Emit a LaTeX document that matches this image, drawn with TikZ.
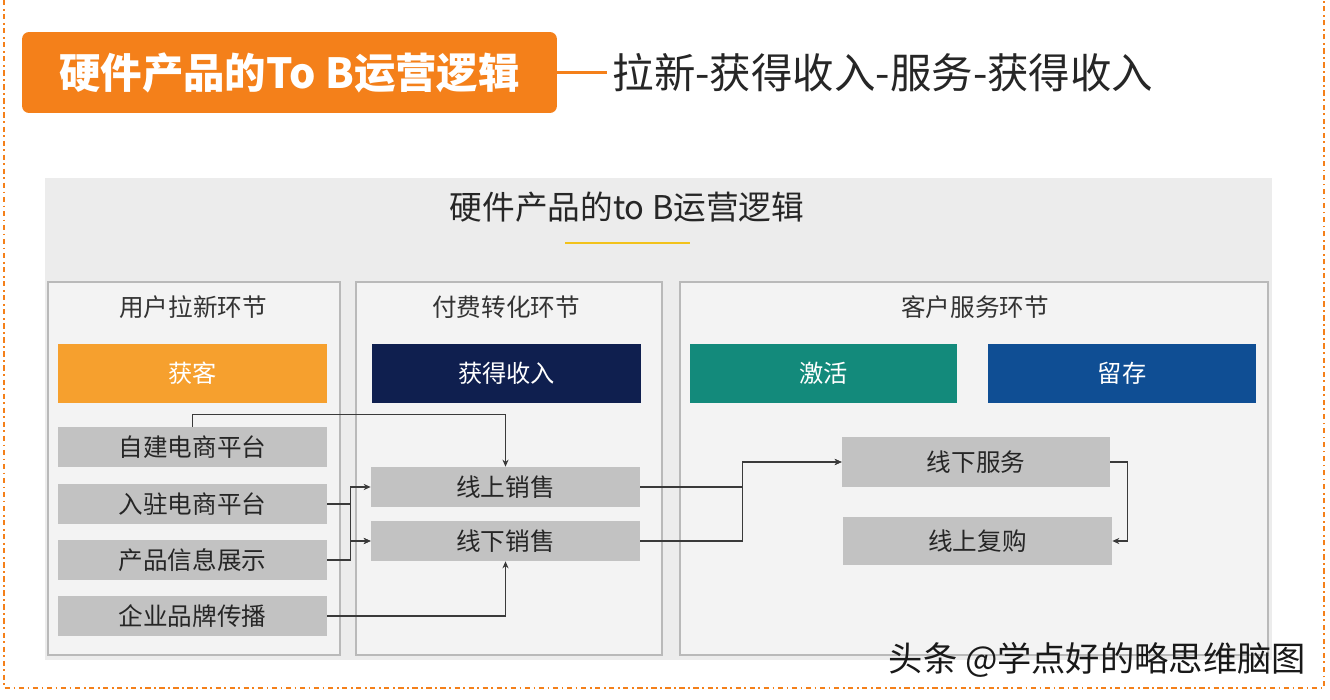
\documentclass[tikz,border=0pt]{standalone}
\usepackage{fontspec}
\setmainfont{Noto Sans CJK SC}
\usepackage{tikz}
\usetikzlibrary{arrows.meta}

\definecolor{titleorange}{HTML}{F4801A}
\definecolor{getorange}{HTML}{F6A02E}
\definecolor{navyblue}{HTML}{0F1F4F}
\definecolor{tealgreen}{HTML}{138A7B}
\definecolor{keepblue}{HTML}{0F4E94}
\definecolor{boxgray}{HTML}{C2C2C2}
\definecolor{panelgray}{HTML}{ECECEC}
\definecolor{colgray}{HTML}{F3F3F3}
\definecolor{lineyellow}{HTML}{F2C21B}
\definecolor{linkgray}{HTML}{3A3A3A}

\tikzset{
  colpanel/.style={fill=colgray, draw=gray!55, line width=0.6pt},
  headbox/.style={minimum width=5.38cm, minimum height=1.18cm, inner sep=0pt, text=white, font=\fontsize{13.8}{15}\selectfont},
  itembox/.style={fill=boxgray, minimum width=5.38cm, minimum height=0.8cm, inner sep=0pt, text=black!85, font=\fontsize{14}{16}\selectfont},
  colhead/.style={text=black!80, font=\fontsize{14}{16}\selectfont},
  link/.style={draw=linkgray, line width=0.7pt, -{Stealth[length=4pt,width=3.5pt]}}
}

\begin{document}
\begin{tikzpicture}[x=0.02cm, y=-0.02cm]
    \useasboundingbox (0,0) rectangle (1330,700);
    \fill[white] (0,0) rectangle (1330,700);

    % dashed frame
    \draw[titleorange, line width=1.6pt, dash pattern=on 3pt off 2pt on 1pt off 2pt] (4,0) -- (4,688) -- (1324,688) -- (1324,0);

    % heading
    \node[fill=titleorange, rounded corners=4pt, minimum width=10.7cm, minimum height=1.62cm, inner sep=0pt,
          text=white, font=\fontsize{23.6}{26}\selectfont\bfseries] (head) at (289.5,72.5) {硬件产品的To B运营逻辑};
    \draw[titleorange, line width=2pt] (head.east) -- ++(50,0) coordinate (headend);
    \node[anchor=west, inner sep=0pt, text=black!85, font=\fontsize{23.6}{26}\selectfont] (sub) at ([xshift=0.1cm]headend) {拉新-获得收入-服务-获得收入};

    % panel
    \fill[panelgray] (45,178) rectangle (1272,660);
    \node[text=black!85, font=\fontsize{18.6}{21}\selectfont] (ptitle) at (627,207) {硬件产品的to B运营逻辑};
    \draw[lineyellow, line width=1.6pt] (565,243) -- (690,243);

    \draw[colpanel] (48,282) rectangle (340,655);
    \draw[colpanel] (356,282) rectangle (662,655);
    \draw[colpanel] (680,282) rectangle (1268,655);

    \node[colhead] (c1) at (193,307) {用户拉新环节};
    \node[colhead] (c2) at (506,307) {付费转化环节};
    \node[colhead] (c3) at (975,307) {客户服务环节};

    \node[headbox, fill=getorange] (hk) at (192.5,373.5) {获客};
    \node[headbox, fill=navyblue] (hsr) at (506.5,373.5) {获得收入};
    \node[headbox, fill=tealgreen, minimum width=5.34cm] (hjh) at (823.5,373.5) {激活};
    \node[headbox, fill=keepblue, minimum width=5.36cm] (hlc) at (1122,373.5) {留存};

    % left column
    \node[itembox] (zj) at (192.5,447) {自建电商平台};
    \node[itembox] (rz) at (192.5,504) {入驻电商平台};
    \node[itembox] (cp) at (192.5,560) {产品信息展示};
    \node[itembox] (qy) at (192.5,616) {企业品牌传播};

    % middle column
    \node[itembox] (xs) at (505.5,487) {线上销售};
    \node[itembox] (xx) at (505.5,541) {线下销售};

    % right column
    \node[itembox, minimum width=5.36cm, minimum height=1cm] (fw) at (976,462) {线下服务};
    \node[itembox, minimum width=5.38cm, minimum height=0.96cm] (fg) at (977.5,541) {线上复购};

    % links
    \draw[link] (zj.north) -- ++(0,-12) -| (xs.north);
    \draw[link] (rz.east) -- ++(23,0) |- (xs.west);
    \draw[link] (rz.east) -- ++(23,0) |- (xx.west);
    \draw[link] (cp.east) -- ++(23,0) |- (xx.west);
    \draw[link] (qy.east) -| (xx.south);
    \draw[link] (xs.east) -- ++(102,0) |- (fw.west);
    \draw[link] (xx.east) -- ++(102,0) |- (fw.west);
    \draw[link] (fw.east) -- ++(17,0) |- (fg.east);

    % watermark
    \node[anchor=east, text=black!90, font=\fontsize{19.5}{22}\selectfont] (mark) at (1312,660) {头条 @学点好的略思维脑图};
\end{tikzpicture}
\end{document}
